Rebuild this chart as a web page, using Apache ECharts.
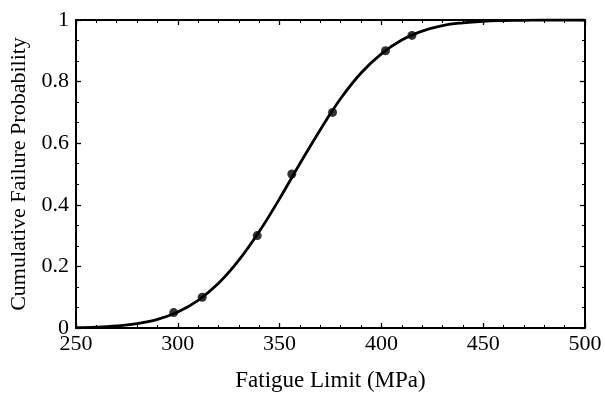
<!DOCTYPE html>
<html><head><meta charset="utf-8">
<script src="https://cdn.jsdelivr.net/npm/echarts@6/dist/echarts.min.js"></script>
<style>html,body{margin:0;padding:0;background:#fff}#c{width:605px;height:399px}</style>
</head><body><div id="c"></div>
<script>
// Measured points
const pointX = [298, 312, 339, 356, 376, 402, 415];
const pointY = [0.05, 0.1, 0.3, 0.5, 0.7, 0.9, 0.95];
// Fitted curve
const curveX = [250, 260, 270, 280, 290, 300, 310, 320, 330, 340, 350, 360, 370, 380, 390, 400, 410, 420, 430, 440, 450, 460, 470, 480, 500];
const curveY = [0.001, 0.003, 0.007, 0.014, 0.028, 0.052, 0.09, 0.145, 0.22, 0.313, 0.42, 0.534, 0.644, 0.745, 0.828, 0.89, 0.935, 0.964, 0.982, 0.991, 0.996, 0.998, 0.999, 1.0, 1.0];
const xTicks = [250, 300, 350, 400, 450, 500];
const yTicks = [0, 0.2, 0.4, 0.6, 0.8, 1];

const font = 'Liberation Serif';
const fs = 22;
const chart = echarts.init(document.getElementById('c'));
const axisLine = {show: true, onZero: false, lineStyle: {color: '#000', width: 2}};
const tick = {inside: true, length: 5, lineStyle: {color: '#000', width: 1.3}};
const minorX = {show: true, splitNumber: 5, length: 3, lineStyle: {color: '#000', width: 1}};
const minorY = {show: true, splitNumber: 3, length: 3, lineStyle: {color: '#000', width: 1}};
chart.setOption({
  animation: false,
  grid: {left: 75, right: 20, top: 20, bottom: 71},
  xAxis: [{
    type: 'value', min: 250, max: 500, interval: 50,
    name: 'Fatigue Limit (MPa)', nameLocation: 'middle', nameGap: 41,
    nameTextStyle: {fontFamily: font, fontSize: 23, color: '#000'},
    axisLine: axisLine, axisTick: tick, minorTick: minorX,
    axisLabel: {fontFamily: font, fontSize: fs, color: '#000', margin: 5,
      formatter: v => xTicks.includes(v) ? String(v) : ''},
    splitLine: {show: false}
  }, {
    type: 'value', position: 'top', min: 250, max: 500, interval: 50,
    axisLine: axisLine, axisTick: tick, minorTick: minorX,
    axisLabel: {show: false}, splitLine: {show: false}
  }],
  yAxis: [{
    type: 'value', min: 0, max: 1, interval: 0.2,
    name: 'Cumulative Failure Probability', nameLocation: 'middle', nameGap: 46,
    nameTextStyle: {fontFamily: font, fontSize: 22, color: '#000'},
    axisLine: axisLine, axisTick: tick, minorTick: minorY,
    axisLabel: {fontFamily: font, fontSize: fs, color: '#000', margin: 7,
      formatter: v => { const r = Math.round(v * 10) / 10; return (r === 0 || r === 1) ? String(r) : r.toFixed(1); }},
    splitLine: {show: false}
  }, {
    type: 'value', position: 'right', min: 0, max: 1, interval: 0.2,
    axisLine: axisLine, axisTick: tick, minorTick: minorY,
    axisLabel: {show: false}, splitLine: {show: false}
  }],
  series: [{
    type: 'line', smooth: 0.4, symbol: 'none',
    lineStyle: {color: '#000', width: 2.8},
    data: curveX.map((x, i) => [x, curveY[i]])
  }, {
    type: 'scatter', symbolSize: 9,
    itemStyle: {color: '#000'},
    data: pointX.map((x, i) => [x, pointY[i]])
  }]
});
</script></body></html>
